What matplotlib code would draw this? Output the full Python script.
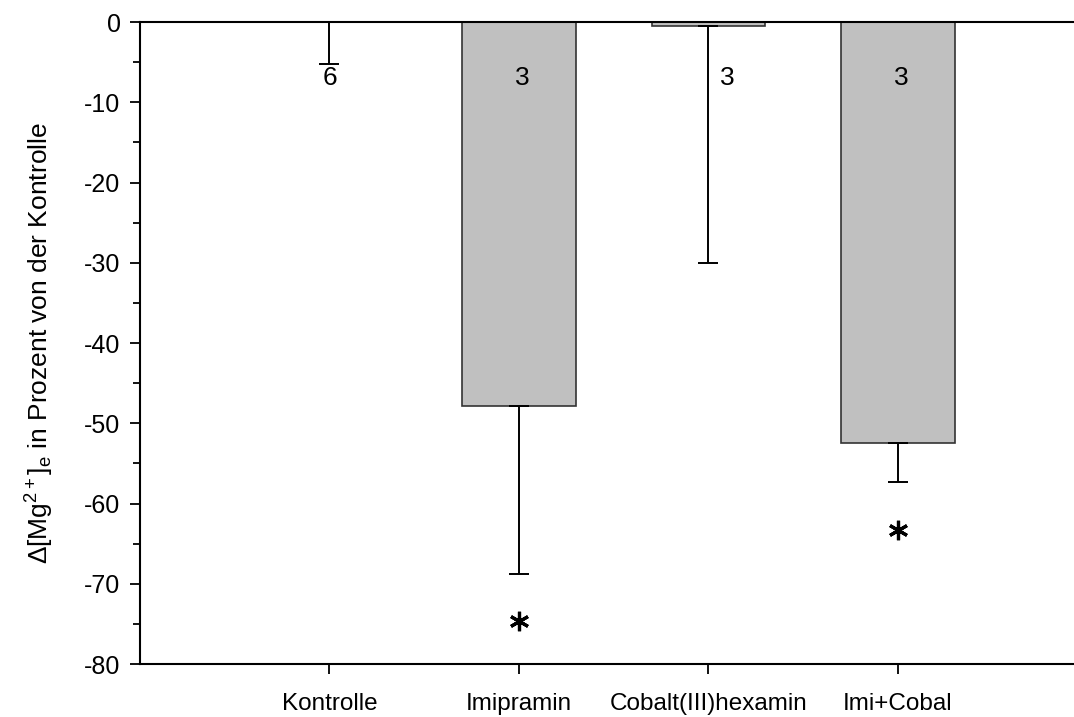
import numpy as np
import matplotlib
matplotlib.use('Agg')
import matplotlib.pyplot as plt
from matplotlib.ticker import MultipleLocator

plt.rcParams['font.family'] = 'Liberation Sans'
plt.rcParams['mathtext.fontset'] = 'custom'
plt.rcParams['mathtext.rm'] = 'Liberation Sans'
plt.rcParams['mathtext.it'] = 'Liberation Sans'
plt.rcParams['axes.unicode_minus'] = False

groups = ['Kontrolle', 'Imipramin', 'Cobalt(III)hexamin', 'Imi+Cobal']
means = [0.0, -47.8, -0.5, -52.4]
errors = [5.2, 21.0, 29.5, 4.9]
n_labels = ['6', '3', '3', '3']
star_y = [None, -74.6, None, -63.3]

fig = plt.figure(figsize=(10.74, 7.17), dpi=100)
ax = fig.add_axes([0.1304, 0.0739, 0.8696, 0.8954])

x = np.arange(len(groups))
ax.bar(x[1:], means[1:], width=0.6, color='#c0c0c0', edgecolor='#333333', linewidth=1.2, zorder=2)
ax.errorbar(x, means, yerr=[errors, [0] * len(errors)], fmt='none', ecolor='black',
            elinewidth=1.4, capsize=7.5, capthick=1.4, zorder=3)

# n per group
n_off = [0, 0.02, 0.1, 0.02]
for i, lab in enumerate(n_labels):
    ax.text(x[i] + n_off[i], -7.0, lab, ha='center', va='center', fontsize=19, zorder=4)

# significance marks
for i, sy in enumerate(star_y):
    if sy is not None:
        ax.plot(x[i], sy, marker=(6, 2, 0), markersize=14, mew=2.3, color='black', zorder=4)

ax.set_xlim(-1.0, 3.93)
ax.set_ylim(-80, 0)
ax.set_xticks(x)
ax.set_xticklabels(groups, fontsize=17.5)
ax.yaxis.set_major_locator(MultipleLocator(10))
ax.yaxis.set_minor_locator(MultipleLocator(5))
ax.tick_params(axis='y', which='major', labelsize=18, length=7, width=1.3, direction='out', pad=7)
ax.tick_params(axis='y', which='minor', length=5, width=1.3, direction='out')
ax.tick_params(axis='x', length=7, width=1.3, direction='out', pad=14)
ax.spines['right'].set_visible(False)
for s in ['left', 'top', 'bottom']:
    ax.spines[s].set_linewidth(1.5)

ax.set_ylabel(r'$\Delta$[Mg$^{2+}$]$_e$ in Prozent von der Kontrolle', fontsize=19, labelpad=20)

plt.savefig('out.png', dpi=100)
plt.close()
